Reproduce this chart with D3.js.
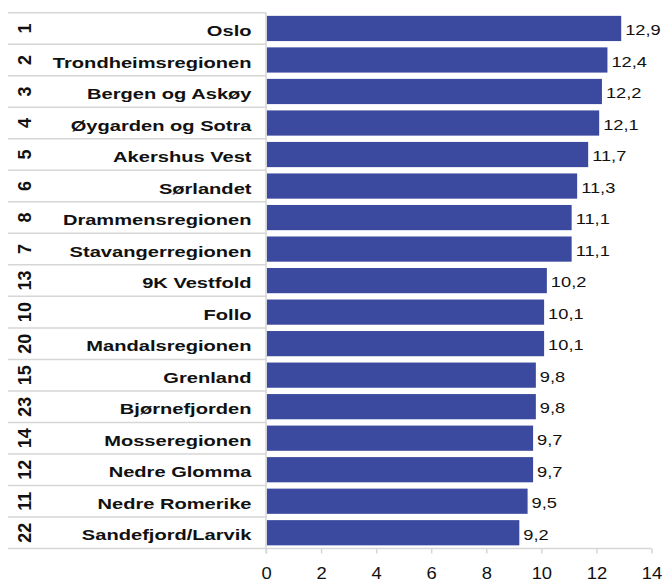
<!DOCTYPE html>
<html>
<head>
<meta charset="utf-8">
<script src="https://cdn.jsdelivr.net/npm/d3@7/dist/d3.min.js"></script>
<style>
  html, body { margin: 0; padding: 0; background: #fff; }
  svg { display: block; }
  text { font-family: "Liberation Sans", Arial, sans-serif; fill: #111; }
</style>
</head>
<body>
<svg id="chart" width="666" height="581"></svg>
<script>
const ranks = ["1","2","3","4","5","6","8","7","13","10","20","15","23","14","12","11","22"];
const regions = ["Oslo","Trondheimsregionen","Bergen og Askøy","Øygarden og Sotra","Akershus Vest","Sørlandet","Drammensregionen","Stavangerregionen","9K Vestfold","Follo","Mandalsregionen","Grenland","Bjørnefjorden","Mosseregionen","Nedre Glomma","Nedre Romerike","Sandefjord/Larvik"];
const values = [12.9,12.4,12.2,12.1,11.7,11.3,11.1,11.1,10.2,10.1,10.1,9.8,9.8,9.7,9.7,9.5,9.2];
const xTicks = [0,2,4,6,8,10,12,14];

const data = regions.map((r, i) => ({ region: r, rank: ranks[i], value: values[i] }));

const svg = d3.select("#chart");
const plotTop = 12.7, plotBottom = 548.5;
const x = d3.scaleLinear().domain([0, 14]).range([266, 651.5]);
const rows = d3.scaleBand().domain(regions).range([plotTop, plotBottom]).padding(0);
const y = d3.scaleBand().domain(regions).range([plotTop, plotBottom]).paddingInner(0.2).paddingOuter(0.1);

const grid = "#d6d6d6";
const fmt = v => d3.format(".1f")(v).replace(".", ",");

// horizontal row separators in the label table
const seps = regions.map(r => rows(r)).concat([plotBottom]);
svg.append("g").selectAll("line").data(seps).join("line")
  .attr("x1", 8).attr("x2", x(0))
  .attr("y1", d => d).attr("y2", d => d)
  .attr("stroke", grid).attr("stroke-width", 1.5);

// bars
svg.append("g").selectAll("rect").data(data).join("rect")
  .attr("x", x(0) + 0.75)
  .attr("y", d => y(d.region))
  .attr("width", d => x(d.value) - x(0) - 0.75)
  .attr("height", y.bandwidth())
  .attr("fill", "#3b4a9e");

// x axis
const axis = svg.append("g").attr("transform", `translate(0,${plotBottom})`)
  .call(d3.axisBottom(x).tickValues(xTicks).tickSize(5).tickFormat(d3.format("d")));
axis.select(".domain").attr("stroke", grid).attr("stroke-width", 1.5).attr("d", `M${x(0)},0H${x(14)}`);
axis.selectAll(".tick line").attr("stroke", grid).attr("stroke-width", 1.5);
axis.selectAll(".tick text")
  .style("font-family", '"Liberation Sans", Arial, sans-serif')
  .style("font-size", "16px")
  .attr("fill", "#111").attr("y", null).attr("dy", null)
  .attr("transform", "translate(0,30.2) scale(1.15,1)");

// vertical axis line
svg.append("line").attr("x1", x(0)).attr("x2", x(0)).attr("y1", plotTop).attr("y2", plotBottom + 5)
  .attr("stroke", grid).attr("stroke-width", 1.5);

// region labels (horizontally stretched like the original)
svg.append("g").selectAll("text").data(data).join("text")
  .attr("transform", d => `translate(251.5,${rows(d.region) + rows.bandwidth() / 2 + 7.6}) scale(1.34,1)`)
  .attr("text-anchor", "end")
  .style("font-size", "15px").style("font-weight", "bold")
  .text(d => d.region);

// rank numbers (rotated)
svg.append("g").selectAll("text").data(data).join("text")
  .attr("transform", d => `translate(31,${rows(d.region) + rows.bandwidth() / 2}) rotate(-90)`)
  .attr("text-anchor", "middle")
  .style("font-size", "18px").style("font-weight", "bold")
  .text(d => d.rank);

// value labels
svg.append("g").selectAll("text").data(data).join("text")
  .attr("transform", d => `translate(${x(d.value) + 4},${y(d.region) + y.bandwidth() / 2 + 6.8}) scale(1.26,1)`)
  .style("font-size", "14.5px")
  .text(d => fmt(d.value));
</script>
</body>
</html>
